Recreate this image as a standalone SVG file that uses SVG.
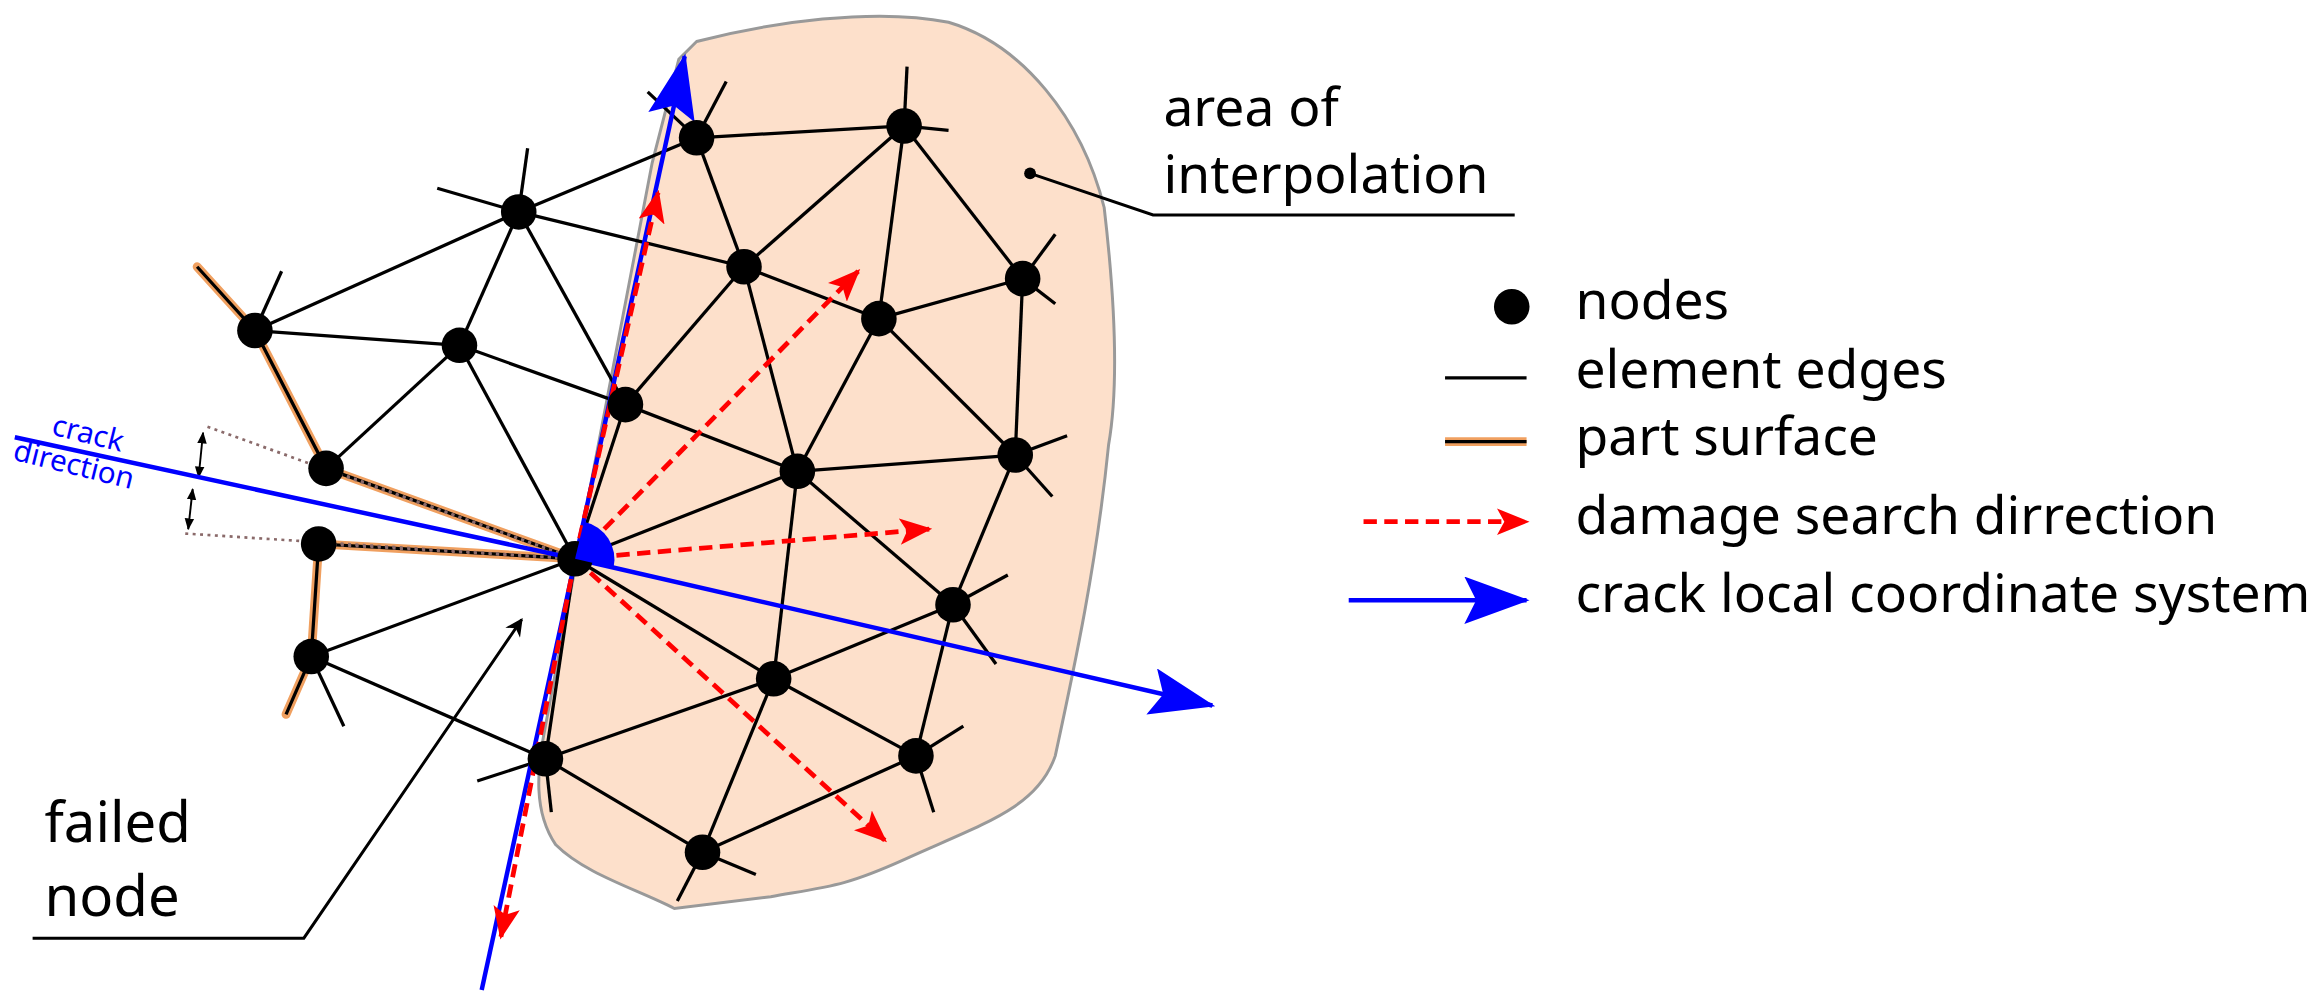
<svg xmlns="http://www.w3.org/2000/svg" width="2324" height="1006" viewBox="0 0 2324 1006">
<defs>
<style>
.e{stroke:#000;stroke-width:2.2;fill:none}
.ps{stroke:#f0a060;stroke-width:6;fill:none;stroke-linecap:round}
.n{fill:#000}
.t{font-family:"Noto Sans","Open Sans",sans-serif;font-size:36px;fill:#000}
.rd{stroke:#f00;stroke-width:3.2;stroke-dasharray:9,5;fill:none}
.bl{stroke:#00f;stroke-width:3;fill:none}
.dt{stroke:#8a6a6a;stroke-width:1.8;stroke-dasharray:2,3;fill:none}
</style>
<marker id="ra" viewBox="0 0 22 18" refX="20" refY="9" markerWidth="22" markerHeight="18" orient="auto" markerUnits="userSpaceOnUse"><path d="M0,0L22,9L0,18L5,9z" fill="#f00"/></marker>
<marker id="ba" viewBox="0 0 44 32" refX="42" refY="16" markerWidth="44" markerHeight="32" orient="auto" markerUnits="userSpaceOnUse"><path d="M0,0L44,16L0,32L8,16z" fill="#00f"/></marker>
<marker id="ka" viewBox="0 0 10 10" refX="9" refY="5" markerWidth="14" markerHeight="12" orient="auto" markerUnits="userSpaceOnUse"><path d="M0,0L10,5L0,10L3,5z" fill="#000"/></marker>
<marker id="ks" viewBox="0 0 10 10" refX="9" refY="5" markerWidth="8" markerHeight="8" orient="auto-start-reverse" markerUnits="userSpaceOnUse"><path d="M0,1L10,5L0,9z" fill="#000"/></marker>
</defs>
<g transform="scale(1.4821)">
<g id="area">
<path d="M470,28 C520,15 590,5 640,15 C690,30 730,80 745,140 C752,200 755,260 748,300 C740,380 725,450 712,510 C700,545 665,555 610,580 C570,598 560,598 520,605 L455,613 C430,600 395,590 375,570 C360,548 362,520 368,490 L398,330 L440,110 L458,40 Z" fill="#fde0cb" stroke="#999" stroke-width="2"/>
</g>
<g id="connectors">
<g id="surface">
<polyline class="ps" points="133,180 172,223 220,316 388,377"/>
<polyline class="ps" points="388,377 215,367 210,443 193,482"/>
<polyline class="e" points="133,180 172,223 220,316 388,377"/>
<polyline class="e" points="388,377 215,367 210,443 193,482"/>
</g>
<g id="edges" class="e">
<line x1="172" y1="223" x2="350" y2="143"/><line x1="172" y1="223" x2="310" y2="233"/>
<line x1="350" y1="143" x2="470" y2="93"/><line x1="350" y1="143" x2="502" y2="180"/>
<line x1="350" y1="143" x2="422" y2="273"/><line x1="350" y1="143" x2="310" y2="233"/>
<line x1="310" y1="233" x2="220" y2="316"/><line x1="310" y1="233" x2="422" y2="273"/>
<line x1="310" y1="233" x2="388" y2="377"/>
<line x1="470" y1="93" x2="610" y2="85"/><line x1="470" y1="93" x2="502" y2="180"/>
<line x1="502" y1="180" x2="610" y2="85"/><line x1="502" y1="180" x2="593" y2="215"/>
<line x1="502" y1="180" x2="422" y2="273"/><line x1="502" y1="180" x2="538" y2="318"/>
<line x1="610" y1="85" x2="593" y2="215"/><line x1="610" y1="85" x2="690" y2="188"/>
<line x1="593" y1="215" x2="690" y2="188"/><line x1="593" y1="215" x2="538" y2="318"/>
<line x1="593" y1="215" x2="685" y2="307"/><line x1="690" y1="188" x2="685" y2="307"/>
<line x1="422" y1="273" x2="538" y2="318"/><line x1="422" y1="273" x2="388" y2="377"/>
<line x1="538" y1="318" x2="685" y2="307"/><line x1="538" y1="318" x2="388" y2="377"/>
<line x1="538" y1="318" x2="522" y2="458"/><line x1="538" y1="318" x2="643" y2="408"/>
<line x1="685" y1="307" x2="643" y2="408"/><line x1="643" y1="408" x2="522" y2="458"/>
<line x1="643" y1="408" x2="618" y2="510"/><line x1="522" y1="458" x2="388" y2="377"/>
<line x1="522" y1="458" x2="618" y2="510"/><line x1="522" y1="458" x2="474" y2="575"/>
<line x1="522" y1="458" x2="368" y2="512"/><line x1="388" y1="377" x2="368" y2="512"/>
<line x1="368" y1="512" x2="474" y2="575"/><line x1="474" y1="575" x2="618" y2="510"/>
<line x1="388" y1="377" x2="210" y2="443"/><line x1="210" y1="443" x2="368" y2="512"/>
<line x1="470" y1="93" x2="437" y2="62"/><line x1="470" y1="93" x2="490" y2="55"/>
<line x1="610" y1="85" x2="612" y2="45"/><line x1="610" y1="85" x2="640" y2="88"/>
<line x1="350" y1="143" x2="295" y2="127"/><line x1="350" y1="143" x2="356" y2="100"/>
<line x1="172" y1="223" x2="190" y2="183"/>
<line x1="690" y1="188" x2="712" y2="158"/><line x1="690" y1="188" x2="712" y2="205"/>
<line x1="685" y1="307" x2="720" y2="294"/><line x1="685" y1="307" x2="710" y2="335"/>
<line x1="643" y1="408" x2="680" y2="388"/><line x1="643" y1="408" x2="672" y2="448"/>
<line x1="618" y1="510" x2="650" y2="490"/><line x1="618" y1="510" x2="630" y2="548"/>
<line x1="474" y1="575" x2="457" y2="608"/><line x1="474" y1="575" x2="510" y2="590"/>
<line x1="368" y1="512" x2="322" y2="527"/><line x1="368" y1="512" x2="372" y2="548"/>
<line x1="210" y1="443" x2="232" y2="490"/>
</g>
<g id="dotted">
<line class="dt" x1="140" y1="288" x2="388" y2="377"/>
<line class="dt" x1="125" y1="360" x2="388" y2="377"/>
<line class="dt" x1="220" y1="316" x2="388" y2="377" stroke="#333"/>
<line class="dt" x1="215" y1="367" x2="388" y2="377" stroke="#333"/>
<line x1="137" y1="292" x2="134" y2="322" stroke="#000" stroke-width="1.3" marker-start="url(#ks)" marker-end="url(#ks)"/>
<line x1="130" y1="330" x2="127" y2="357" stroke="#000" stroke-width="1.3" marker-start="url(#ks)" marker-end="url(#ks)"/>
</g>
<g id="crack">
<line class="bl" x1="10" y1="295" x2="388" y2="377"/>
<line class="bl" x1="325" y1="668" x2="462" y2="38" marker-end="url(#ba)"/>
<line class="bl" x1="388" y1="377" x2="818" y2="476" marker-end="url(#ba)"/>
</g>
<g id="damage">
<line class="rd" x1="388" y1="377" x2="444" y2="130" marker-end="url(#ra)"/>
<line class="rd" x1="388" y1="377" x2="338" y2="632" marker-end="url(#ra)"/>
<line class="rd" x1="388" y1="377" x2="579" y2="183" marker-end="url(#ra)"/>
<line class="rd" x1="388" y1="377" x2="627" y2="357" marker-end="url(#ra)"/>
<line class="rd" x1="388" y1="377" x2="597" y2="567" marker-end="url(#ra)"/>
</g>
<g id="leaders">
<polyline points="22,633 205,633 352,418" stroke="#000" stroke-width="2" fill="none" marker-end="url(#ka)"/>
<circle cx="695" cy="117" r="4" fill="#000"/>
<polyline points="695,117 778,145 1022,145" stroke="#000" stroke-width="2" fill="none"/>
</g>
</g>
<g id="nodes" class="n">
<circle cx="470" cy="93" r="12"/><circle cx="610" cy="85" r="12"/><circle cx="350" cy="143" r="12"/>
<circle cx="502" cy="180" r="12"/><circle cx="690" cy="188" r="12"/><circle cx="593" cy="215" r="12"/>
<circle cx="172" cy="223" r="12"/><circle cx="310" cy="233" r="12"/><circle cx="422" cy="273" r="12"/>
<circle cx="538" cy="318" r="12"/><circle cx="685" cy="307" r="12"/><circle cx="220" cy="316" r="12"/>
<circle cx="215" cy="367" r="12"/><circle cx="388" cy="377" r="12"/><circle cx="643" cy="408" r="12"/>
<circle cx="210" cy="443" r="12"/><circle cx="522" cy="458" r="12"/><circle cx="368" cy="512" r="12"/>
<circle cx="618" cy="510" r="12"/><circle cx="474" cy="575" r="12"/>
</g>
<path id="angle" d="M388,377 L394,352 A26,26 0 0 1 414,383 Z" fill="#00f"/>
<g id="labels">
<text class="t" x="785" y="85">area of</text>
<text class="t" x="785" y="130">interpolation</text>
<text class="t" x="30" y="568" style="font-size:38px">failed</text>
<text class="t" x="30" y="618" style="font-size:38px">node</text>
<text font-family="Noto Sans,sans-serif" font-size="20" fill="#00f" transform="translate(34,293) rotate(14)">crack</text>
<text font-family="Noto Sans,sans-serif" font-size="20" fill="#00f" transform="translate(8,310) rotate(14)">direction</text>
</g>
<g id="legend">
<circle cx="1020" cy="207" r="12" fill="#000"/>
<text class="t" x="1063" y="215">nodes</text>
<line x1="975" y1="255" x2="1030" y2="255" stroke="#000" stroke-width="2.2"/>
<text class="t" x="1063" y="262">element edges</text>
<line x1="975" y1="298" x2="1030" y2="298" stroke="#f0a060" stroke-width="6"/>
<line x1="975" y1="298" x2="1030" y2="298" stroke="#000" stroke-width="2.2"/>
<text class="t" x="1063" y="307">part surface</text>
<line class="rd" x1="920" y1="352" x2="1030" y2="352" marker-end="url(#ra)"/>
<text class="t" x="1063" y="360">damage search dirrection</text>
<line class="bl" x1="910" y1="405" x2="1030" y2="405" marker-end="url(#ba)"/>
<text class="t" x="1063" y="413">crack local coordinate system</text>
</g>
</g>
</svg>
